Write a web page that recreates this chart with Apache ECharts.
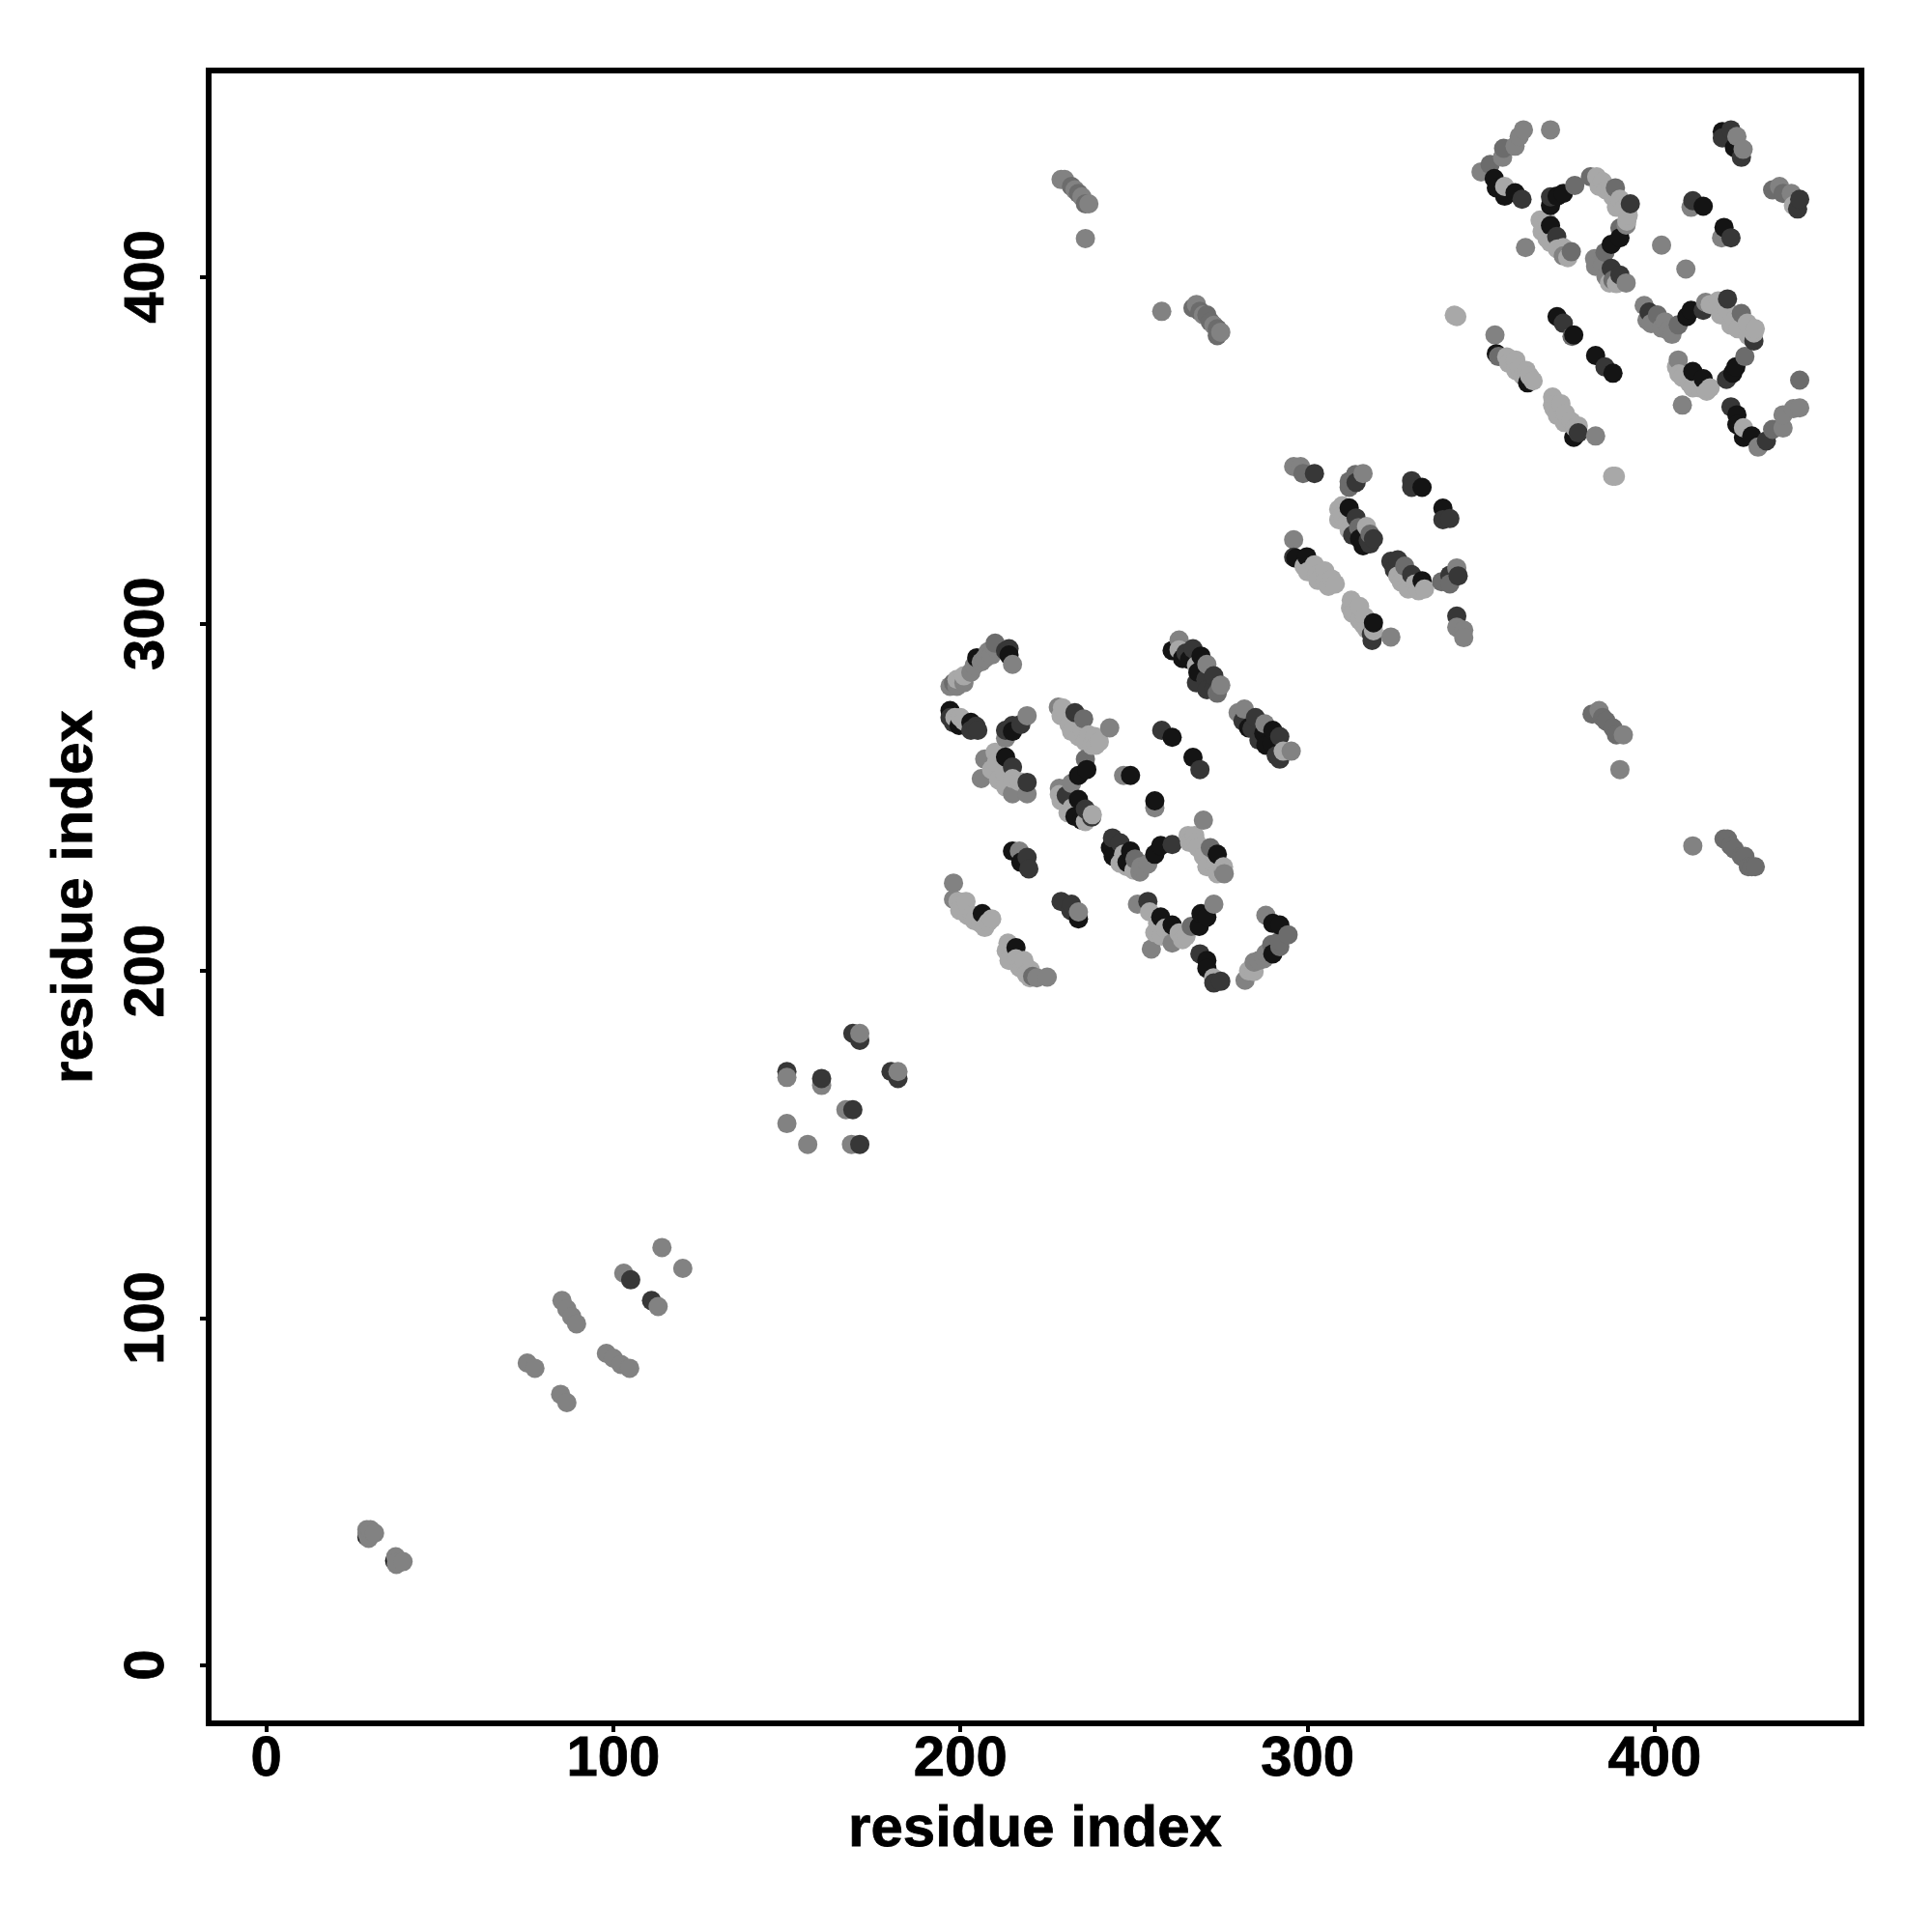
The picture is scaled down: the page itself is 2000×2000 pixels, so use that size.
<!DOCTYPE html>
<html><head><meta charset="utf-8">
<style>html,body{margin:0;padding:0;background:#fff}#c{width:2000px;height:2000px}</style>
<script src="https://cdn.jsdelivr.net/npm/echarts@6/dist/echarts.min.js"></script>
</head><body><div id="c"></div>
<script>
const L=168,M=130,G=108,D=55,K=20;
const tickValues=[0,100,200,300,400];
const axisName="residue index";
const blockLow=[[29,37,K],[29,39,M],[30,39,M],[29,38,M],[29.5,36.5,M],[31.2,38,M],[37,30,K],[37.3,31.2,M],[37.5,29,M],[37.5,29.5,M],[39.4,29.8,M],
[75.2,87,M],[77.4,85.5,M],[85.2,105,M],[86.6,102.6,M],[88,100.4,M],[89.4,98.3,M],[84.8,78,M],[86.6,75.6,M],
[98,89.8,M],[100,88.4,M],[102.2,86.6,M],[104.7,85.5,M],[103,112.9,M],[105,111,D],[111,105,D],[112.9,103.3,M],[114,120.3,M],[120,114.3,M]];
const blockMid=[[150,171,D],[150,169.3,M],[150,156,M],[156,150,M],[160,167,M],[160,169,D],[167,160,M],[169,160,D],[168.6,150,M],[171,150,D],
[169,182,D],[171,180,D],[171,182,M],[180,171,D],[182,169,D],[182,171,M]];
const blockD1=[[197,282,M],[198,283,G],[199,284,L],[201,285,L],[203,286,M],[204,288,M],[204.7,290.2,K],[207,290,M],[208,292,M],[210,293,M],[210,294.4,G],[213,292.2,D],[214,291,K],[215,288.3,M],
[197,275,K],[197,273,D],[198.4,273,L],[200,273,L],[199.6,270.7,K],[203,271.6,K],[203,269.3,D],[205,269.3,D],
[213,267,M],[213,269.3,D],[215,270.7,D],[215,269,K],[217.4,271,D],[219.2,273.5,M],
[206,255.4,M],[207,261,M],[210,263,L],[210.4,260,L],[213,261.6,K],[212.7,257,L],[215,258.7,D],[215,255.4,L],[217,254.5,L],[219.2,251,M],[219.2,254.3,D]];
const blockD2=[[228.2,276,M],[229.4,275.8,L],[229,273.5,L],[231.3,271,L],[233,274.4,D],[235.5,272.6,G],[235,269.8,L],[237,268,L],[238.7,267.5,L],[237.8,265,L],[243,270,M],
[236,261,G],[236.4,258,K],[234,256.3,K],[232,254,M],[228.5,252.6,M],[228.5,250.8,L],[230.5,250.5,D],[234,249.4,K],[232.2,247,L],[236,246.6,D],[237.8,244.3,D],[235,243.4,K],
[247,256.3,M],[249,256.3,K],[256,247,M],[256,249,K],[258,269.3,D],[261,267.3,K],[267,261.5,K],[269,258,D]];
const blockD3=[[261,292.3,K],[263,295.3,M],[263,292.5,L],[265,291.6,D],[267,292.8,D],[266,289.7,K],[269.3,290.7,K],[268,288,L],[268.4,286,K],[271,288.3,M],[270.7,284,D],[273,285,D],[274,280,G],[275,282.3,M],
[280,274.4,M],[281.8,275.4,M],[281.4,272,D],[285,273,D],[284,269.8,D],[287.7,271.2,M],[287.4,268.4,K],[290,269.3,K],[289.7,265.6,K],[292,267.5,D],[292,261,D],[293,263.3,L],[295.3,263.3,M]];
const blockD4=[[243.8,238.3,D],[243.2,235.5,K],[246,236.9,D],[245.7,232.7,K],[247,233.6,L],[248,231.3,K],[249,234.5,K],[250.3,232.2,G],[251.7,228.5,M],[254,230.8,M],[256,233.6,K],[257.7,236.1,K],[261,236.4,D],[270,243.4,M],
[265.6,239,L],[267.5,239,L],[268.4,235.5,L],[272,235.5,G],[273,230,L],[274,233.6,K],[275.8,228.5,M],[275.8,230,L],
[215,234.5,K],[217,234.5,M],[217.4,231.3,K],[219.2,232.7,D],[219.7,229.4,D]];
const blockD5=[[198,225.3,M],[198,220.6,M],[199.3,220,L],[199.8,217.4,L],[201.6,220,L],[203.5,216,L],[205.8,213.7,L],[206.3,216.5,K],[208,214,L],
[229,220,D],[231.8,217.4,D],[232,219.2,D],[234,215,K],[234,217,M],
[213.2,205.8,L],[213.7,208,L],[216,206.7,K],[216,203.5,L],[217.8,200.7,L],[218.3,203,L],[220.2,200.2,L],[220.8,198.4,G],[225,198.2,M],
[251,219.2,M],[254,220,D],[254.5,217,L],[255,206.3,M],[256.8,213.7,L],[257.7,215.5,K],[259,212.3,L],[261,208,M],[261,213.2,K],[263,210.9,L],[266.5,212.8,G],[268.8,212.8,K],[269.3,216.5,K],[271,215.5,K],[273,219.2,M],
[269,204.9,D],[271,203,K],[271,200.7,K],[272.9,198,L],[273,196.5,D],[275,197,D],
[282,197.3,M],[284.6,199.8,L],[284.6,202.5,M],[287.5,203.5,M],[288,216,M],[289.7,207.6,G],[290,204.9,K],[290,213.7,K],[292,208.6,G],[292,213.2,K],[294.4,210.4,G]];
const blockE=[[296,345.3,M],[298,345.3,M],[298.7,343.3,G],[302,343.3,D],[312,339.3,G],[312,341,G],[313.8,343,G],[314,340.7,D],[316,343.3,M],
[330,341.2,D],[330,339.3,D],[333,339.3,K],[339,333.3,K],[339,330,D],[341,330.3,D],
[296,324.2,M],[296,319.2,D],[296.6,318.9,K],[299,316.6,L],[299.8,319.3,K],[302,317,L],[302.6,314.2,L],[305,315.2,L],[305,312.2,L],[307,312.9,L],
[310,334,L],[310,331.4,L],[311.4,329,L],[312,333.4,K],[314,330.5,D],[314.7,327.7,G],[315,324.5,K],[317,328,L],[317.5,324,D],[318,325.8,G],
[324,318,D],[325,315.6,D],[326,318.4,D],[326,313.8,L],[328,316.6,G],[328.6,311.5,L],[330,314.2,D],[331,311.5,L],[333,312.4,K],[333.7,310,L],
[338.6,312.1,G],[341,314,D],[341,311.5,G],[343,316.1,M],[343.4,313.8,D],
[312.4,304.5,L],[312.6,306.8,L],[315,305,L],[316,299.9,L],[316.5,302,L],[318.4,297,D],[318.6,295.2,D],[319,298,L],[319,300.3,K],[324,296.2,M],
[343,302.2,D],[343,299,M],[345,298.2,M],[345,296,M]];
const blockF1=[[350,430.2,M],[352.6,432.3,G],[356.2,434.4,M],[356.5,437,G],[359.8,437.6,M],[361,440.4,M],[362.2,442.3,M],[370,442.3,M],
[353.8,428.3,K],[354.4,425.6,K],[356.8,423.2,K],[356.8,426,L],[359.8,424.2,K],[361.8,422.3,D],[362.8,408.4,M],
[367,416.3,L],[367.6,413,L],[370,414.7,K],[370,409.8,L],[371.8,411.6,D],[373.7,408.4,L],[373.7,406,M],[376,407.2,G],
[370,420.5,K],[370,423,D],[371.9,423.2,K],[373.7,424,K],[377,426.3,G],
[381.5,428.8,G],[383.3,428.8,L],[385,427.4,L],[387,424.6,L],[388.7,425.6,G],[390,422.3,L],[392.4,417.7,L],[393,421,D],
[382.7,405.2,M],[385,403.3,M],[385.7,407,G],[387,398.2,L],[387.5,409.3,K],[387.5,402.4,D],[390,414,G],[390,411.2,K],[390,400.5,D],[391.8,414.9,M],[391.8,398.2,M],
[402,409.1,M],[409,402.2,M],[410.5,420,M],[411,421.9,D],[414,420.3,K],[419.3,411.2,M],[420,414.2,K],[422,411.2,D],
[419.5,441.8,K],[419.5,440,D],[422,442.3,D],[423,437.2,K],[423.7,440.4,M],[425,434.4,D],[425.5,436.7,M],
[434,425,G],[436,426,M],[437,424,G],[439.4,424,M],[440,420.5,L],[441.2,419.5,D],[441.8,422.3,D]];
const blockF2=[[397,391.7,M],[397.8,387.5,M],[398.4,389.8,D],[400.8,389,G],[402,385.2,M],[405,383.4,M],[406.8,386.1,G],[409.3,388.5,K],[410.5,390.3,K],[414,390.3,D],[414.7,392.6,M],[418.3,393,L],[420.7,390.8,L],[421,393.6,D],[423,387.5,L],[425,389.4,G],[426.7,386.6,L],[428.6,381.5,D],[428.6,383.8,L],
[426,377,G],[423.4,374,K],[422.5,372.2,K],[420.7,370.4,D],[441.8,370.2,G],
[406.3,374,L],[406.8,376,M],[408,363,M],[410,369.4,L],[411,372.7,K],[413,368,L],[414,370.6,K],[416,368,L],
[422,362.5,D],[423.7,360.2,K],[423.7,357.4,K],[425.6,353.7,K],[425.6,356.5,L],[428,354.1,K],[429.8,350.9,M],[432.2,352.7,D],[434,356,G],[437,356.4,M],[437,360.2,M],[440,362,M],[441.8,362.2,M],
[342.3,388.9,L],[343,388.5,L],[354,383.2,M],[354.4,377.8,K],[355,377,G],[357.4,376.9,L],[359.8,375.5,L],[361,373.6,L],[363.4,369.4,K],[364,371.3,L],
[371.9,388.5,K],[373.7,386.6,D],[376.2,382.8,G],[376.7,383.2,K],[383,377.3,K],[385.7,374,D],[388,372.2,K],
[370.6,365.3,L],[370.6,363,L],[373,363.4,L],[374.3,360.6,L],[376,358.3,L],[376.7,353.7,K],[378,355,D],[383,354.1,M],[387.9,342.5,L],[388.7,342.5,L]];
const blockFar=[[411,236,M],[420,238,G],[421,238,G],[422,236,G],[423,235,G],[425,233,G],[426,233,G],[427,230,G],[428,230,G],[429,230,G],
[390,258,M],[382,274,G],[384,275,M],[385,273,G],[386,272,G],[388,270,G],[389,268,G],[391,268,M],
[229,428,M],[230,428,M],[232,426,G],[233,425,M],[234,424,G],[235,423,M],[236,421,G],[237,421,M],[236,411,M],
[258,390,M],[267,391,G],[268,392,M],[269,390,G],[270,389,M],[271,389,G],[272,387,G],[273,386,M],[274,385,G],[274,383,G],[275,384,M]];
const blockDense=[[199,282,M],[201,283,M],[206,289,M],[209,291,M],[214,292.8,D],[198,271.5,D],[201,272,L],[204.5,270.5,D],
[384,426,L],[386,425,L],[388,423,L],[389,420,L],[391,419.5,L],[392,416,L],[369,416,L],[369,411,L],[372,408,L],[375,405.5,L],[383,403,M],[386,400,M],[388,399,G],[389,398,L],
[416,392,L],[419,389,L],[422,386,L],[424,385,L],[427,383,L],[429,385,L],[407,372,L],[408,371,L],[411,368,L],[415,367,L],
[358,375,L],[360,373,L],[362,371.5,L],[365,370,L],[363,373,L],[360,376,L],[371,362,L],[372,360,L],[374,358,L],[377,356.5,L],[378,357,L],[399,386.5,M],[403,387,M],[404,384.5,M],
[309,333,L],[309,330,L],[312,327,L],[313,325.5,D],[316,322.5,K],[318,323,D],[319,324.5,D],[300,315,L],[303,312.5,L],[306,310.8,L],[308,311.5,L],[313,303,L],[315,301,L],[317,298.5,L],[318,299,L],[327,312,L],[329,310,L],[332,309.5,L],
[232,269,L],[234,267.5,L],[236,266,L],[239,265,L],[240,266,L],[229,249,L],[231,245.5,L],[233,244.5,K],[236,243,L],[238,245,L],
[244,233,K],[246,231,L],[248,230,L],[250,229,L],[252,230,M],[266,237,L],[268,237,L],[270,233,L],[271,230,L],[274,228,L],[276,228,M],
[200,218,L],[202,216,L],[204,214.5,L],[207,212.5,L],[209,215,L],[214,203,L],[217,201,L],[219,199,L],[220,198,L],[222,198,M],[256,211,L],[258,210,L],[261,210.5,L],[264,209,L],[265,210,L],[283,200,L],[286,203,M],[288,205,M],[292,207,G],
[209,258,L],[211,255,L],[213,253,L],[215,251,M],[264,290,K],[268,283,D],[271,281,D],[273,281.5,D],[283,270,K],[286,266.5,D],[288,265,K],[291,262,D]];
const points=[].concat(blockDense,blockLow,blockMid,blockD1,blockD2,blockD3,blockD4,blockD5,blockE,blockF1,blockF2,blockFar)
  .map((p,i)=>({p,i})).sort((a,b)=>a.p[0]-b.p[0]||a.i-b.i).map(o=>o.p);
const font="'Liberation Sans',Arial,sans-serif";
const axisBase={type:'value',splitLine:{show:false},
  axisLine:{show:false,onZero:false},
  axisTick:{show:true,customValues:tickValues,length:9,lineStyle:{color:'#000',width:4}},
  name:axisName,nameLocation:'middle',
  nameTextStyle:{fontFamily:font,fontWeight:'bold',fontSize:60,color:'#000',textBorderColor:'#000',textBorderWidth:0.8}};
const labelBase={customValues:tickValues,fontFamily:font,fontWeight:'bold',fontSize:58,color:'#000',textBorderColor:'#000',textBorderWidth:0.8};
const chart=echarts.init(document.getElementById('c'),null,{renderer:'canvas',width:2000,height:2000});
chart.setOption({animation:false,backgroundColor:'#fff',
 grid:{left:216,top:73,width:1711,height:1711,show:true,borderColor:'#000',borderWidth:6,backgroundColor:'transparent'},
 xAxis:Object.assign({},axisBase,{min:-16.6,max:459.6,nameGap:80,
   axisLabel:Object.assign({},labelBase,{margin:9})}),
 yAxis:Object.assign({},axisBase,{min:-16.8,max:459.4,nameGap:108,
   axisLabel:Object.assign({},labelBase,{rotate:90,margin:34,align:'center',verticalAlign:'bottom'})}),
 series:[{type:'scatter',symbol:'circle',symbolSize:20,data:points,
   itemStyle:{opacity:1,color:p=>{const g=p.value[2];return 'rgb('+g+','+g+','+g+')';}},
   z:3,silent:true}]
});
</script></body></html>
